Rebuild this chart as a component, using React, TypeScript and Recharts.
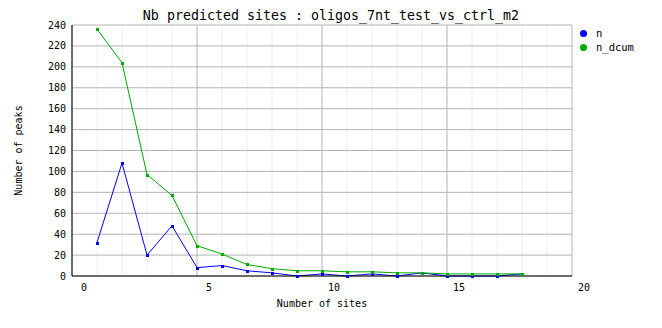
import { LineChart, Line, XAxis, YAxis, CartesianGrid } from 'recharts';

document.body.style.margin = '0';

const FONT = '"DejaVu Sans Mono", "Liberation Mono", monospace';

// number of sites (plot positions) and counts
const sites = [1, 2, 3, 4, 5, 6, 7, 8, 9, 10, 11, 12, 13, 14, 15, 16, 17, 18];
const nValues = [32, 108, 20, 48, 8, 10, 5, 3, 0, 2, 0, 2, 0, 3, 0, 0, 0, 2];
const nDcumValues = [236, 204, 97, 77, 29, 21, 11, 7, 5, 5, 4, 4, 3, 3, 2, 2, 2, 2];

const xTicks = [0, 5, 10, 15, 20];
const minorXTicks = [1, 2, 3, 4, 6, 7, 8, 9, 11, 12, 13, 14, 16, 17, 18, 19];
const yTicks = [0, 20, 40, 60, 80, 100, 120, 140, 160, 180, 200, 220, 240];

const seriesNames = ['n', 'n_dcum'];
const seriesColors = ['#0000ff', '#00aa00'];

const chartData = sites.map((s, i) => ({ site: s, n: nValues[i], n_dcum: nDcumValues[i] }));

const SquareDot = (color: string) => (props: any) => {
  const { cx, cy, index } = props;
  if (cx == null || cy == null) return <g key={index} />;
  return (
    <rect
      key={index}
      x={Math.round(cx) - 1}
      y={Math.round(cy) - 1}
      width={3}
      height={3}
      fill={color}
      shapeRendering="crispEdges"
    />
  );
};

const YLabel = ({ viewBox }: any) => {
  const x = viewBox.x + 18;
  const y = viewBox.y + viewBox.height / 2;
  return (
    <text x={x} y={y} transform={`rotate(-90 ${x} ${y})`} textAnchor="middle" dominantBaseline="central"
      fontSize={10} fontFamily={FONT} fill="#000">
      Number of peaks
    </text>
  );
};

const XLabel = ({ viewBox }: any) => (
  <text x={viewBox.x + viewBox.width / 2} y={viewBox.y + 27} textAnchor="middle" dominantBaseline="central"
    fontSize={10} fontFamily={FONT} fill="#000">
    Number of sites
  </text>
);

export default function App() {
  return (
    <div style={{ position: 'relative', width: 662, height: 328, background: '#fff', fontFamily: FONT }}>
      <div style={{ position: 'absolute', left: 0, width: 662, top: 8, textAlign: 'center', fontSize: 13.3, lineHeight: '16px', paddingLeft: 0 }}>
        <span style={{ position: 'absolute', left: 331, transform: 'translateX(-50%)', whiteSpace: 'pre' }}>
          Nb predicted sites : oligos_7nt_test_vs_ctrl_m2
        </span>
      </div>
      <LineChart width={662} height={328} data={chartData} margin={{ top: 25, right: 90, left: 0, bottom: 0 }}>
        <CartesianGrid horizontal={false} verticalValues={minorXTicks} stroke="#eeeeee" strokeWidth={1} />
        <CartesianGrid stroke="#b4b4b4" strokeWidth={1} />
        <XAxis
          type="number"
          dataKey="site"
          domain={[0, 20]}
          ticks={xTicks}
          interval={0}
          height={52}
          tickLine={false}
          axisLine={{ stroke: '#000' }}
          tick={{ fill: '#000', fontSize: 10, fontFamily: FONT, dx: 12 }}
          label={<XLabel />}
        />
        <YAxis
          type="number"
          domain={[0, 240]}
          ticks={yTicks}
          interval={0}
          width={72}
          tickLine={false}
          tickSize={4}
          axisLine={{ stroke: '#000' }}
          tick={{ fill: '#000', fontSize: 10, fontFamily: FONT }}
          label={<YLabel />}
        />
        <Line type="linear" dataKey="n" stroke={seriesColors[0]} strokeWidth={1} dot={SquareDot(seriesColors[0])}
          activeDot={false} isAnimationActive={false} />
        <Line type="linear" dataKey="n_dcum" stroke={seriesColors[1]} strokeWidth={1} dot={SquareDot(seriesColors[1])}
          activeDot={false} isAnimationActive={false} />
      </LineChart>
      {seriesNames.map((name, i) => (
        <div key={name} style={{ position: 'absolute', left: 580, top: 27 + i * 14, height: 12, display: 'flex', alignItems: 'center', fontSize: 10.5 }}>
          <span style={{ width: 7, height: 7, borderRadius: '50%', background: seriesColors[i], marginRight: 9 }} />
          <span>{name}</span>
        </div>
      ))}
    </div>
  );
}
